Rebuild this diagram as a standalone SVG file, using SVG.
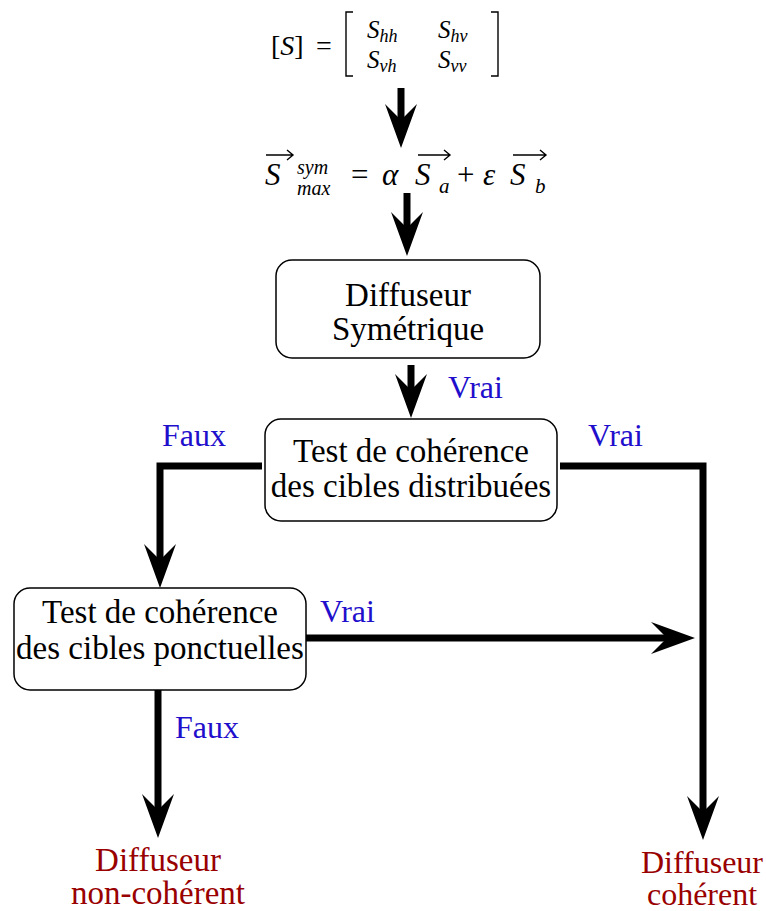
<svg xmlns="http://www.w3.org/2000/svg" width="766" height="911" viewBox="0 0 766 911">
<defs>
<marker id="ah" markerUnits="userSpaceOnUse" viewBox="-45 -17 47 34" markerWidth="47" markerHeight="34" refX="-28" refY="0" orient="auto" overflow="visible">
<path d="M0,0 L-44,-16 Q-34,-6 -28,0 Q-34,6 -44,16 Z" fill="#000"/>
</marker>
</defs>

<g id="matrix" fill="#000">
<text font-family="Liberation Serif" x="271" y="55" font-size="28">[<tspan font-style="italic">S</tspan>]</text>
<text font-family="Liberation Serif" x="316" y="55" font-size="28">=</text>
<path fill="none" stroke="#000" stroke-width="1.4" d="M353,12 H346 V76 H353 M491,12 H498 V76 H491"/>
<text font-family="Liberation Serif" font-style="italic" x="367" y="38" font-size="25">S<tspan font-size="18" dy="4">hh</tspan></text>
<text font-family="Liberation Serif" font-style="italic" x="438" y="38" font-size="25">S<tspan font-size="18" dy="4">hv</tspan></text>
<text font-family="Liberation Serif" font-style="italic" x="367" y="68" font-size="25">S<tspan font-size="18" dy="4">vh</tspan></text>
<text font-family="Liberation Serif" font-style="italic" x="438" y="68" font-size="25">S<tspan font-size="18" dy="4">vv</tspan></text>
</g>

<g id="equation" fill="#000">
<text font-family="Liberation Serif" font-style="italic" x="265" y="185" font-size="31">S</text>
<text font-family="Liberation Serif" font-style="italic" x="297" y="174" font-size="20">sym</text>
<text font-family="Liberation Serif" font-style="italic" x="297" y="195" font-size="20">max</text>
<text font-family="Liberation Serif" x="351" y="185" font-size="31">=</text>
<text font-family="Liberation Serif" font-style="italic" x="382" y="185" font-size="31">α</text>
<text font-family="Liberation Serif" font-style="italic" x="415" y="185" font-size="31">S</text>
<text font-family="Liberation Serif" font-style="italic" x="439" y="193" font-size="21">a</text>
<text font-family="Liberation Serif" x="457" y="185" font-size="31">+</text>
<text font-family="Liberation Serif" font-style="italic" x="483" y="185" font-size="31">ε</text>
<text font-family="Liberation Serif" font-style="italic" x="510" y="185" font-size="31">S</text>
<text font-family="Liberation Serif" font-style="italic" x="535" y="193" font-size="21">b</text>
<path fill="none" stroke="#000" stroke-width="1.4" d="M266,155 H293 M287,150 L293,155 L287,160 M418,155 H450 M444,150 L450,155 L444,160 M513,155 H546 M540,150 L546,155 L540,160"/>
</g>

<g id="n1" font-size="33" text-anchor="middle">
<rect x="276" y="260" width="264" height="98" rx="16" fill="#fff" stroke="#000" stroke-width="1.5"/>
<text font-family="Liberation Serif" x="408" y="306">Diffuseur</text>
<text font-family="Liberation Serif" x="408" y="340">Symétrique</text>
</g>

<g id="n2" font-size="33" text-anchor="middle">
<rect x="265" y="419" width="292" height="102" rx="16" fill="#fff" stroke="#000" stroke-width="1.5"/>
<text font-family="Liberation Serif" x="411" y="462">Test de cohérence</text>
<text font-family="Liberation Serif" x="411" y="497">des cibles distribuées</text>
</g>

<g id="n3" font-size="33" text-anchor="middle">
<rect x="14" y="588" width="292" height="102" rx="16" fill="#fff" stroke="#000" stroke-width="1.5"/>
<text font-family="Liberation Serif" x="160" y="623">Test de cohérence</text>
<text font-family="Liberation Serif" x="160" y="659">des cibles ponctuelles</text>
</g>

<g id="out1" font-size="33" fill="#990000" text-anchor="middle">
<text font-family="Liberation Serif" x="158" y="871">Diffuseur</text>
<text font-family="Liberation Serif" x="158" y="904">non-cohérent</text>
</g>
<g id="out2" font-size="32" fill="#990000" text-anchor="middle">
<text font-family="Liberation Serif" x="702" y="873">Diffuseur</text>
<text font-family="Liberation Serif" x="702" y="905">cohérent</text>
</g>

<g id="connectors" fill="none" stroke="#000" stroke-width="7">
<path d="M401,88 V120" marker-end="url(#ah)"/>
<path d="M407,193 V228" marker-end="url(#ah)"/>
<path d="M411,365 V390" marker-end="url(#ah)"/>
<path d="M262,466 H160 V560" marker-end="url(#ah)"/>
<path d="M560,466 H703 V812" marker-end="url(#ah)"/>
<path d="M306,638 H667" marker-end="url(#ah)"/>
<path d="M158,690 V810" marker-end="url(#ah)"/>
</g>

<g id="labels" font-size="32" fill="#1f0fcc">
<text font-family="Liberation Serif" x="448" y="398">Vrai</text>
<text font-family="Liberation Serif" x="162" y="446">Faux</text>
<text font-family="Liberation Serif" x="588" y="446">Vrai</text>
<text font-family="Liberation Serif" x="320" y="622">Vrai</text>
<text font-family="Liberation Serif" x="175" y="738">Faux</text>
</g>
</svg>
